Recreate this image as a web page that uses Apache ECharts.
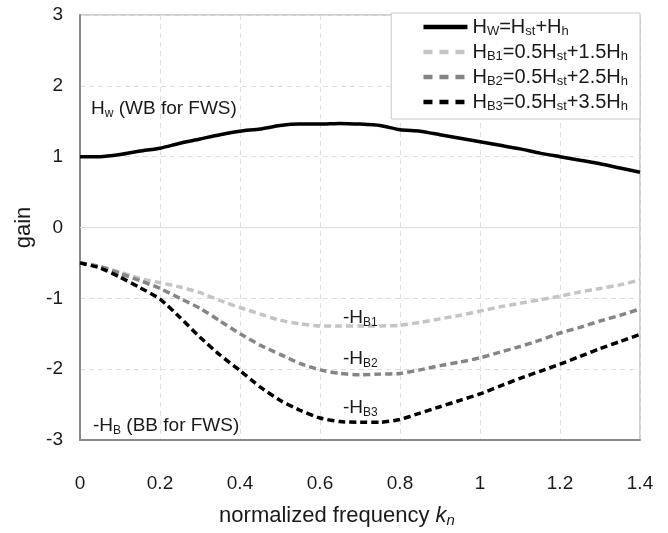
<!DOCTYPE html>
<html>
<head>
<meta charset="utf-8">
<script src="https://cdn.jsdelivr.net/npm/echarts@6/dist/echarts.min.js"></script>
<style>
html,body{margin:0;padding:0;background:#fff;}
#chart{width:668px;height:533px;}
</style>
</head>
<body>
<div id="chart"></div>
<script>
// ---- data ----
var kn = [0, 0.05, 0.10, 0.15, 0.20, 0.25, 0.30, 0.35, 0.40, 0.45, 0.50, 0.55, 0.60, 0.65, 0.70,
          0.75, 0.80, 0.85, 0.90, 0.95, 1.00, 1.05, 1.10, 1.15, 1.20, 1.25, 1.30, 1.35, 1.40];
var hW  = [1.00, 1.00, 1.03, 1.08, 1.12, 1.19, 1.25, 1.31, 1.36, 1.39, 1.44, 1.46, 1.46, 1.47, 1.46,
           1.44, 1.38, 1.36, 1.31, 1.26, 1.21, 1.16, 1.11, 1.05, 1.00, 0.95, 0.90, 0.84, 0.78];
var hB1 = [-0.50, -0.55, -0.63, -0.72, -0.78, -0.84, -0.92, -1.03, -1.13, -1.22, -1.31, -1.36, -1.39, -1.39, -1.39,
           -1.39, -1.38, -1.34, -1.29, -1.24, -1.18, -1.12, -1.07, -1.02, -0.97, -0.91, -0.86, -0.81, -0.74];
var hB2 = [-0.50, -0.55, -0.65, -0.75, -0.86, -1.00, -1.14, -1.32, -1.50, -1.66, -1.79, -1.92, -2.01, -2.06, -2.08,
           -2.07, -2.06, -2.01, -1.95, -1.90, -1.84, -1.76, -1.68, -1.59, -1.49, -1.41, -1.32, -1.24, -1.15];
var hB3 = [-0.50, -0.57, -0.70, -0.85, -1.01, -1.27, -1.55, -1.80, -2.02, -2.25, -2.44, -2.58, -2.69, -2.74, -2.75,
           -2.75, -2.71, -2.62, -2.53, -2.44, -2.35, -2.24, -2.13, -2.03, -1.93, -1.82, -1.71, -1.61, -1.51];
var xTickValues = [0, 0.2, 0.4, 0.6, 0.8, 1.0, 1.2, 1.4];
var xTickLabels = ['0', '0.2', '0.4', '0.6', '0.8', '1', '1.2', '1.4'];
var yTickValues = [-3, -2, -1, 0, 1, 2, 3];
var yTickLabels = ['-3', '-2', '-1', '0', '1', '2', '3'];
var seriesNames = ['HW', 'HB1', 'HB2', 'HB3'];
var legendLabels = [
  '{m|H}{s|W}{m|=H}{s|st}{m|+H}{s|h}',
  '{m|H}{s|B1}{m|=0.5H}{s|st}{m|+1.5H}{s|h}',
  '{m|H}{s|B2}{m|=0.5H}{s|st}{m|+2.5H}{s|h}',
  '{m|H}{s|B3}{m|=0.5H}{s|st}{m|+3.5H}{s|h}'
];

// ---- build ----
function pairs(ys){ return kn.map(function(x,i){ return [x, ys[i]]; }); }
function tickLabel(vals, labs){
  return function(v){
    for (var i = 0; i < vals.length; i++) if (Math.abs(vals[i] - v) < 1e-6) return labs[i];
    return '';
  };
}
var FONT = 'Liberation Sans, Arial, sans-serif';
var TXT = '#1a1a1a';
var richAnno = {
  m: {fontSize: 19, fontFamily: FONT, color: TXT, lineHeight: 22},
  s: {fontSize: 12, fontFamily: FONT, color: TXT, lineHeight: 8, verticalAlign: 'bottom'}
};
var richLegend = {
  m: {fontSize: 20, fontFamily: FONT, color: TXT, lineHeight: 22},
  s: {fontSize: 13, fontFamily: FONT, color: TXT, lineHeight: 8, verticalAlign: 'bottom'}
};
function anno(x, y, text){
  return {type: 'text', left: x, top: y, z: 100,
    style: {text: text, rich: richAnno, fill: TXT}};
}

var chart = echarts.init(document.getElementById('chart'), null, {renderer: 'canvas'});
var dash = [7, 4];
var legendDash = [9, 7];
chart.setOption({
  animation: false,
  backgroundColor: '#fff',
  grid: {left: 80, right: 28, top: 15, bottom: 90, show: true, borderColor: '#a0a0a0', borderWidth: 1, backgroundColor: 'transparent'},
  xAxis: {
    type: 'value', min: 0, max: 1.4, interval: 0.2,
    axisLine: {show: true, onZero: false, lineStyle: {color: '#8a8a8a', width: 2}},
    axisTick: {show: false},
    axisLabel: {margin: 34, fontSize: 19, fontFamily: FONT, color: TXT, formatter: tickLabel(xTickValues, xTickLabels)},
    splitLine: {show: true, lineStyle: {color: '#dedede', type: [5, 4], width: 1}},
    name: '{t|normalized frequency }{i|k}{is|n}',
    nameLocation: 'middle', nameGap: 64,
    nameTextStyle: {
      padding: [0, 46, 0, 0],
      rich: {
        t: {fontSize: 22, fontFamily: FONT, color: TXT, lineHeight: 24},
        i: {fontSize: 22, fontFamily: FONT, fontStyle: 'italic', color: TXT, lineHeight: 24},
        is: {fontSize: 15, fontFamily: FONT, fontStyle: 'italic', color: TXT, lineHeight: 10, verticalAlign: 'bottom'}
      }
    }
  },
  yAxis: {
    type: 'value', min: -3, max: 3, interval: 1,
    axisLine: {show: true, onZero: false, lineStyle: {color: '#8a8a8a', width: 2}},
    axisTick: {show: false},
    axisLabel: {margin: 17, fontSize: 19, fontFamily: FONT, color: TXT, formatter: tickLabel(yTickValues, yTickLabels)},
    splitLine: {show: true, lineStyle: {color: '#dedede', type: [5, 4], width: 1}},
    name: 'gain', nameLocation: 'middle', nameGap: 41,
    nameTextStyle: {fontSize: 22, fontFamily: FONT, color: TXT}
  },
  legend: {
    orient: 'vertical', right: 28, top: 13,
    backgroundColor: '#fff', borderColor: '#c8c8c8', borderWidth: 1,
    padding: [4, 12, 6, 30],
    itemWidth: 44, itemHeight: 14, itemGap: 4,
    itemStyle: {opacity: 0},
    lineStyle: {width: 4.5},
    data: [
      {name: 'HW', lineStyle: {type: 'solid', width: 4.5}},
      {name: 'HB1', lineStyle: {type: legendDash, width: 4.5}},
      {name: 'HB2', lineStyle: {type: legendDash, width: 4.5}},
      {name: 'HB3', lineStyle: {type: legendDash, width: 4.5}}
    ],
    formatter: function(name){ return legendLabels[seriesNames.indexOf(name)]; },
    textStyle: {rich: richLegend}
  },
  graphic: [
    anno(91, 99, '{m|H}{s|w}{m| (WB for FWS)}'),
    anno(93, 416, '{m|-H}{s|B}{m| (BB for FWS)}'),
    anno(343, 308, '{m|-H}{s|B1}'),
    anno(343, 349, '{m|-H}{s|B2}'),
    anno(343, 398, '{m|-H}{s|B3}')
  ],
  series: [
    {name: 'HW', type: 'line', data: pairs(hW), symbol: 'none', smooth: 0.2, z: 5,
     lineStyle: {color: '#000', width: 3.5, type: 'solid'}, itemStyle: {color: '#000'},
     markLine: {silent: true, symbol: 'none', label: {show: false}, z: 1,
       lineStyle: {type: 'solid', color: '#dcdcdc', width: 1}, data: [{yAxis: 0}]}},
    {name: 'HB1', type: 'line', data: pairs(hB1), symbol: 'none', smooth: 0.2,
     lineStyle: {color: '#c4c4c4', width: 3.5, type: dash}, itemStyle: {color: '#c4c4c4'}},
    {name: 'HB2', type: 'line', data: pairs(hB2), symbol: 'none', smooth: 0.2,
     lineStyle: {color: '#858585', width: 3.5, type: dash}, itemStyle: {color: '#858585'}},
    {name: 'HB3', type: 'line', data: pairs(hB3), symbol: 'none', smooth: 0.2,
     lineStyle: {color: '#000', width: 3.5, type: dash}, itemStyle: {color: '#000'}}
  ]
});
</script>
</body>
</html>
